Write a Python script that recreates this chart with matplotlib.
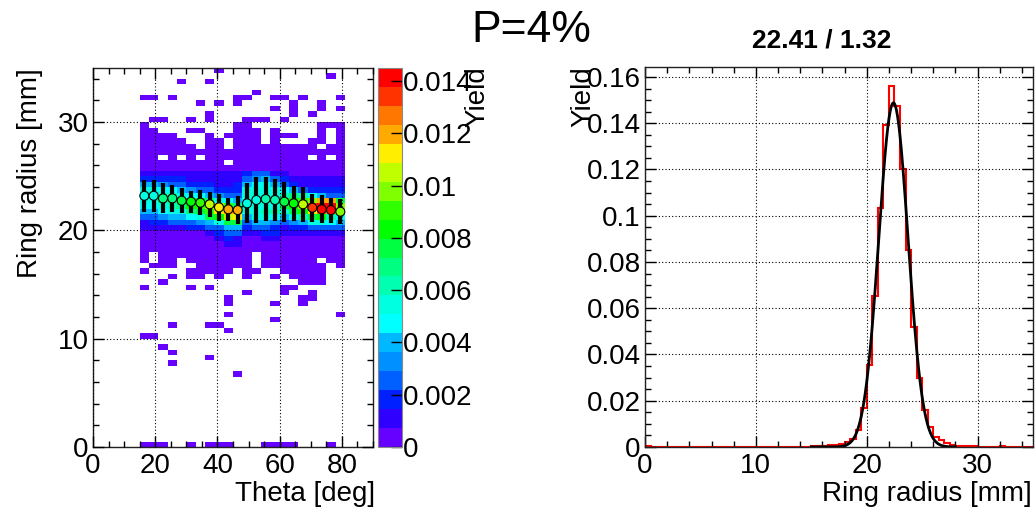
import numpy as np
import matplotlib
matplotlib.use('Agg')
import matplotlib.pyplot as plt
from matplotlib.colors import ListedColormap, BoundaryNorm
from matplotlib.ticker import MultipleLocator, FormatStrFormatter

plt.rcParams['font.family'] = ['Liberation Sans', 'DejaVu Sans']

# ---- data -------------------------------------------------------------
title = 'P=4%'

# 2D map: theta bins of 3 deg (0..90), radius bins of 0.5 mm (0..35)
theta_edges = np.arange(0, 91, 3)
radius_edges = np.arange(0, 35.01, 0.5)
first_col = 5          # first filled theta bin (15-18 deg)
zmax = 0.0145
n_levels = 20

# colour level per cell (0..j = 0..19), '.' = empty; rows from 35 mm down to 0 mm,
# columns = theta bins 15..81 deg
map_rows = [
    "........0.............",  # 34.5
    "....................0.",
    "....0..0..............",
    "......................",
    "............0.........",
    "00.0......00..00.0...0",
    "......0.0.0.....0..0..",
    "..............0.0..0.0",
    ".......0........0.0...",
    ".00..0.0...000.0......",
    "0.........00.......000",  # 29.5
    "00...00...000.0....0.0",
    "0000...0.0000.000..0.0",
    "00000..00.000.0...00.0",
    "000000.00.000000000.00",
    "0000000000000000000000",
    "00.0.0.00000000000.0.0",
    "000000000.000000000000",
    "0000000000000000000000",
    "1111111111123311000000",
    "2222211111134532111111",  # 24.5
    "5543322211256753211111",
    "7766543322277776532222",
    "7788766543377778986533",
    "7799aab976576679bcdgga",
    "66789bceec97777abeijjd",
    "556779acfgg77887abfhga",
    "3345567abef5776578ab86",
    "122333457aa35543457765",
    "1111122335523321223333",
    "0000000123311221111111",  # 19.5
    "0000000012100110000000",
    "0000000001100000000000",
    "0000000000000000000000",
    "0.0000000000.000000000",
    "0.00.0000000.000000.00",
    ".000..000000.0000000.0",
    "0....00000.00..00000..",
    "...0.00.0..0..0.0000..",
    "..0..............000..",
    "0....0.0.......00.....",  # 14.5
    "...........0...0..0...",
    ".........0.......00...",
    ".........0....0..0....",
    "......................",
    ".........0...........0",
    "..............0.......",
    "...0...00.............",
    ".........0............",
    "00....................",
    "......................",  # 9.5
    "..0...................",
    "...0..................",
    ".......0..............",
    "...0..................",
    "......................",
    "..........0...........",
    "......................",
    "......................",
    "......................",
    "......................",  # 4.5
    "......................",
    "......................",
    "......................",
    "......................",
    "......................",
    "......................",
    "......................",
    "......................",
    "000..0.000...0000...0.",  # 0
]

# profile (mean and spread of ring radius per theta bin)
profile_mean = [23.20, 23.20, 22.96, 22.96, 22.75, 22.65, 22.56, 22.41, 22.13, 21.95, 21.88,
                22.50, 22.81, 22.90, 22.81, 22.65, 22.50, 22.41, 22.10, 21.95, 21.88, 21.73]
profile_rms = [1.46, 1.46, 1.38, 1.26, 1.15, 1.00, 1.15, 1.15, 1.23, 1.08, 1.31,
               1.85, 2.12, 2.00, 1.92, 1.85, 1.62, 1.62, 1.31, 1.31, 1.15, 1.15]

# 1D ring radius histogram, 0.5 mm bins from 0 to 35 mm
radius_hist = [0.0004] + [0.0] * 29 + [
    0.0003, 0.0004, 0.0005, 0.0007, 0.0010, 0.0014, 0.0022, 0.0035, 0.0075, 0.0170,
    0.0353, 0.0652, 0.1034, 0.1394, 0.1561, 0.1475, 0.1204, 0.0853, 0.0519, 0.0298,
    0.0158, 0.0086, 0.0043, 0.0029, 0.0017, 0.0010, 0.0006, 0.0006, 0.0005, 0.0004,
    0.0002, 0.0, 0.0, 0.0, 0.0003, 0.0, 0.0, 0.0, 0.0, 0.0]

fit_amp = 0.1488
fit_mean = 22.41
fit_sigma = 1.32
fit_lo, fit_hi = 15.0, 28.0

palette = ['#6600ff', '#3000ff', '#0020ff', '#0060ff', '#0090ff', '#00b8ff', '#00ffff',
           '#00ffe0', '#00ffb0', '#00ff80', '#00ff40', '#00ff00', '#30ff00', '#80ff00',
           '#c0ff00', '#ffee00', '#ffaa00', '#ff7700', '#ff3300', '#ff0000']

# ---- build the map ----------------------------------------------------
nrow = len(radius_edges) - 1
levels = np.full((nrow, len(theta_edges) - 1), -1)
for i, row in enumerate(map_rows):
    j = nrow - 1 - i
    for c, ch in enumerate(row):
        if ch != '.':
            levels[j, first_col + c] = int(ch, 36)
z = np.ma.masked_less((levels + 0.5) * zmax / n_levels, 0)

cmap = ListedColormap(palette)
norm = BoundaryNorm(np.linspace(0, zmax, n_levels + 1), n_levels)

# ---- figure -----------------------------------------------------------
W, H = 1035, 512
fig = plt.figure(figsize=(W / 100, H / 100), dpi=100)

def fbox(x0, y0, x1, y1):
    return [x0 / W, 1 - y1 / H, (x1 - x0) / W, (y1 - y0) / H]

grid_kw = dict(color='black', linestyle=(0, (1, 2)), linewidth=0.8)

def style(ax):
    ax.tick_params(which='both', direction='in', top=True, right=True,
                   labelsize=20, width=1, color='black')
    ax.tick_params(which='major', length=8)
    ax.tick_params(which='minor', length=4.5)
    ax.tick_params(axis='y', pad=3)
    ax.tick_params(axis='x', pad=4)
    for s in ax.spines.values():
        s.set_linewidth(1)
        s.set_color('#222222')

# left: 2D map + profile
ax1 = fig.add_axes(fbox(93, 68, 373, 447))
mesh = ax1.pcolormesh(theta_edges, radius_edges, z, cmap=cmap, norm=norm)
ax1.set_xlim(0, 90)
ax1.set_ylim(0, 35)
ax1.xaxis.set_major_locator(MultipleLocator(20))
ax1.xaxis.set_minor_locator(MultipleLocator(5))
ax1.yaxis.set_major_locator(MultipleLocator(10))
ax1.yaxis.set_minor_locator(MultipleLocator(2))
ax1.set_axisbelow(False)
ax1.grid(True, which='major', **grid_kw)
style(ax1)

theta_c = 0.5 * (theta_edges[first_col:first_col + len(profile_mean)] +
                 theta_edges[first_col + 1:first_col + 1 + len(profile_mean)])
col_max = levels[:, first_col:first_col + len(profile_mean)].max(axis=0)
ax1.errorbar(theta_c, profile_mean, yerr=profile_rms, fmt='none', ecolor='black',
             elinewidth=3, capsize=0, zorder=4)
ax1.plot(theta_c, profile_mean, color='black', lw=1, zorder=5)
ax1.scatter(theta_c, profile_mean, c=[palette[m] for m in col_max], s=42,
            edgecolors='black', linewidths=0.8, zorder=6)

cax = fig.add_axes(fbox(377.5, 68, 401.5, 447))
cb = fig.colorbar(mesh, cax=cax, ticks=np.arange(0, 0.0141, 0.002))
cb.ax.yaxis.set_major_formatter(FormatStrFormatter('%g'))
cb.ax.tick_params(direction='in', length=8, width=1, labelsize=20, pad=1, color='black')
cb.ax.minorticks_off()
cb.outline.set_edgecolor('#888888')
cb.outline.set_linewidth(0.8)

# right: 1D histogram with gaussian fit
ax2 = fig.add_axes(fbox(645, 67, 1033, 447))
ax2.stairs(radius_hist, radius_edges, color='red', lw=1.5)
xf = np.linspace(fit_lo, fit_hi, 400)
ax2.plot(xf, fit_amp * np.exp(-0.5 * ((xf - fit_mean) / fit_sigma) ** 2),
         color='black', lw=2)
ax2.set_xlim(0, 35)
ax2.set_ylim(0, 0.1643)
ax2.xaxis.set_major_locator(MultipleLocator(10))
ax2.xaxis.set_minor_locator(MultipleLocator(2))
ax2.yaxis.set_major_locator(MultipleLocator(0.02))
ax2.yaxis.set_minor_locator(MultipleLocator(0.005))
ax2.yaxis.set_major_formatter(FormatStrFormatter('%g'))
ax2.grid(True, which='major', **grid_kw)
style(ax2)

# texts
fig.text(531 / W, 1 - 30 / H, title, ha='center', va='center', fontsize=32)
fig.text(822 / W, 1 - 40 / H, f'{fit_mean:.2f} / {fit_sigma:.2f}', ha='center',
         va='center', fontsize=19, fontweight='bold')
fig.text(30 / W, 1 - 68 / H, 'Ring radius [mm]', rotation=90, ha='center', va='top',
         fontsize=20)
fig.text(375 / W, 1 - 494 / H, 'Theta [deg]', ha='right', va='center', fontsize=20)
fig.text(477 / W, 1 - 66 / H, 'Yield', rotation=90, ha='center', va='top', fontsize=20)
fig.text(583 / W, 1 - 66 / H, 'Yield', rotation=90, ha='center', va='top', fontsize=20)
fig.text(1032 / W, 1 - 494 / H, 'Ring radius [mm]', ha='right', va='center', fontsize=20)

fig.savefig('out.png', dpi=100)
